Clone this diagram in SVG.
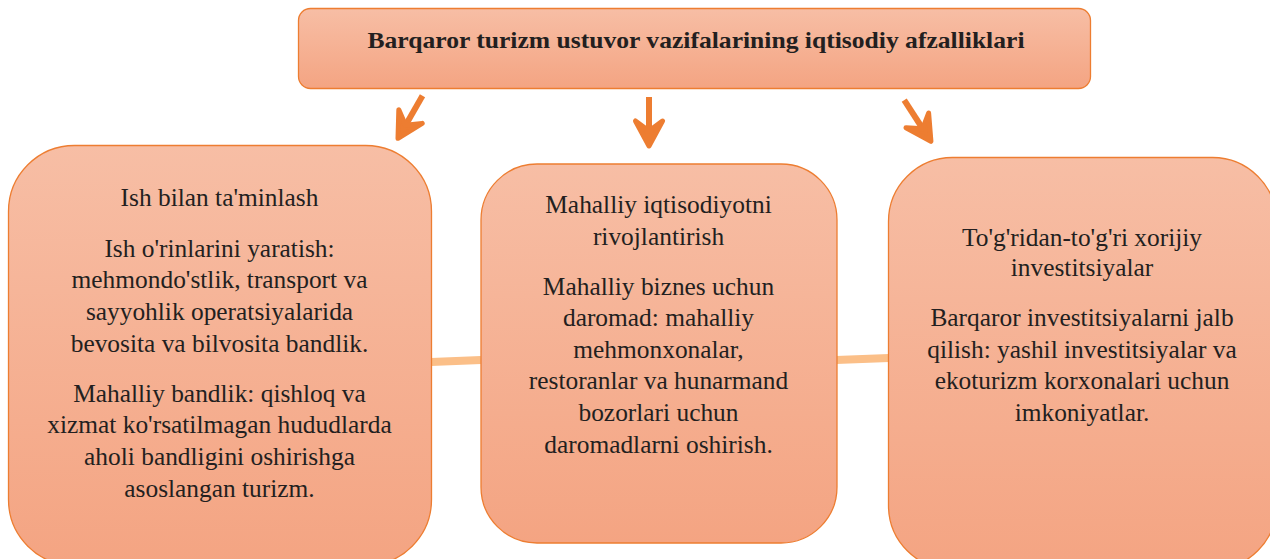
<svg xmlns="http://www.w3.org/2000/svg" width="1270" height="559" viewBox="0 0 1270 559">
<defs>
<linearGradient id="g" x1="0" y1="0" x2="0" y2="1">
<stop offset="0" stop-color="#F7BEA5"/>
<stop offset="1" stop-color="#F4A482"/>
</linearGradient>
<style>
.box{fill:url(#g);stroke:#ED7D31;stroke-width:1.3}
.t{font-family:'Liberation Serif',serif;font-size:25.4px;fill:#231F20;text-anchor:middle}
.title{font-family:'Liberation Serif',serif;font-size:24px;font-weight:bold;fill:#231F20;text-anchor:middle}
.shaft{fill:none;stroke:#ED7D31;stroke-width:6}
.head{fill:#ED7D31;stroke:#ED7D31;stroke-width:5;stroke-linejoin:round}
.link{stroke:#FBBF88;stroke-width:8;fill:none}
</style>
<g id="arrowShape">
<line class="shaft" x1="0" y1="-51" x2="0" y2="-14"/>
<polygon class="head" points="-13.5,-27 0,-2 13.5,-27 0,-17"/>
</g>
</defs>
<rect width="1270" height="559" fill="#FFFFFF"/>
<g id="connectors">
<line class="link" x1="431" y1="362" x2="481" y2="360"/>
<line class="link" x1="836" y1="360" x2="889" y2="358"/>
<use href="#arrowShape" transform="translate(397,140) rotate(30)"/>
<use href="#arrowShape" transform="translate(649,148)"/>
<use href="#arrowShape" transform="translate(932,143) rotate(-33)"/>
</g>
<g id="title">
<rect class="box" x="298.5" y="8.5" width="792" height="80" rx="12"/>
<text class="title" x="696" y="48" textLength="657" lengthAdjust="spacingAndGlyphs">Barqaror turizm ustuvor vazifalarining iqtisodiy afzalliklari</text>
</g>
<g id="node-left">
<rect class="box" x="8.5" y="145.5" width="423" height="420" rx="66"/>
<text class="t" x="219.5" y="206">Ish bilan ta'minlash</text>
<text class="t" x="219.5" y="256.5">Ish o'rinlarini yaratish:</text>
<text class="t" x="219.5" y="288">mehmondo'stlik, transport va</text>
<text class="t" x="219.5" y="320">sayyohlik operatsiyalarida</text>
<text class="t" x="219.5" y="351.5">bevosita va bilvosita bandlik.</text>
<text class="t" x="219.5" y="401.5">Mahalliy bandlik: qishloq va</text>
<text class="t" x="219.5" y="433">xizmat ko'rsatilmagan hududlarda</text>
<text class="t" x="219.5" y="464.5">aholi bandligini oshirishga</text>
<text class="t" x="219.5" y="496.5">asoslangan turizm.</text>
</g>
<g id="node-middle">
<rect class="box" x="481" y="164" width="356" height="379" rx="56"/>
<text class="t" x="658.5" y="213">Mahalliy iqtisodiyotni</text>
<text class="t" x="658.5" y="244.5">rivojlantirish</text>
<text class="t" x="658.5" y="295">Mahalliy biznes uchun</text>
<text class="t" x="658.5" y="326">daromad: mahalliy</text>
<text class="t" x="658.5" y="357.5">mehmonxonalar,</text>
<text class="t" x="658.5" y="389">restoranlar va hunarmand</text>
<text class="t" x="658.5" y="420.5">bozorlari uchun</text>
<text class="t" x="658.5" y="452.5">daromadlarni oshirish.</text>
</g>
<g id="node-right">
<rect class="box" x="888.5" y="157.5" width="388" height="412" rx="64"/>
<text class="t" x="1082" y="245.5">To'g'ridan-to'g'ri xorijiy</text>
<text class="t" x="1082" y="276">investitsiyalar</text>
<text class="t" x="1082" y="326">Barqaror investitsiyalarni jalb</text>
<text class="t" x="1082" y="357.5">qilish: yashil investitsiyalar va</text>
<text class="t" x="1082" y="389">ekoturizm korxonalari uchun</text>
<text class="t" x="1082" y="420.5">imkoniyatlar.</text>
</g>
</svg>
